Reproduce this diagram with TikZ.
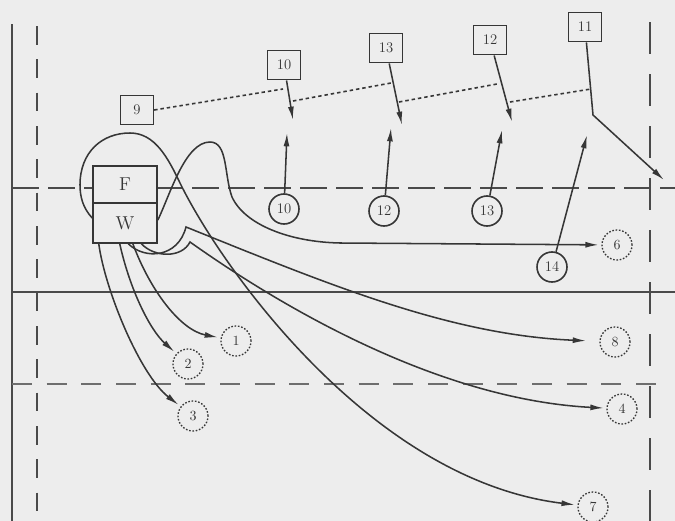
\documentclass[tikz,border=0pt]{standalone}
\usetikzlibrary{arrows.meta,calc}
\definecolor{ink}{HTML}{363636}
\definecolor{paper}{HTML}{EDEDED}
\definecolor{guide}{HTML}{4A4A4A}
\begin{document}
\begin{tikzpicture}[x=0.75pt,y=-0.75pt,
  numbox/.style={draw=ink,line width=1.2pt,fill=paper,minimum width=24.5pt,minimum height=22pt,inner sep=0pt,text=ink,font=\fontsize{11}{12}\selectfont},
  circ/.style={circle,draw=ink,line width=1.2pt,fill=paper,minimum size=22.5pt,inner sep=0pt,text=ink,font=\fontsize{11}{12}\selectfont},
  dcirc/.style={circle,draw=ink,line width=1pt,dash pattern=on 1.2pt off 1.3pt,fill=paper,minimum size=22.5pt,inner sep=0pt,text=ink,font=\fontsize{10.5}{12}\selectfont},
  fwbox/.style={draw=ink,line width=1.2pt,fill=paper,minimum width=48pt,inner sep=0pt,text=ink,font=\fontsize{14}{15}\selectfont},
  conn/.style={draw=ink,line width=1.15pt},
  arr/.style={conn,-{Latex[length=10pt,width=4.5pt]},shorten >=2pt},
  dotl/.style={draw=ink,line width=1.2pt,dash pattern=on 2.6pt off 2.2pt},
  thickguide/.style={draw=guide,line width=2.2pt},
]
\fill[paper] (0,0) rectangle (675,521);
\useasboundingbox (0,0) rectangle (675,521);

% guide lines
\draw[thickguide] (12,24) -- (12,521);
\draw[thickguide,dash pattern=on 14pt off 11pt] (37,26) -- (37,521);
\draw[thickguide,dash pattern=on 24pt off 15pt] (650,22) -- (650,521);
\draw[thickguide,dash pattern=on 20pt off 7pt] (12,188) -- (675,188);
\draw[thickguide] (12,292) -- (675,292);
\draw[thickguide,draw=guide!80,line width=1.8pt,dash pattern=on 15pt off 11pt] (12,384) -- (656,384);

% F / W
\node[fwbox,minimum height=27.75pt] (F) at (125,184.5) {F};
\node[fwbox,minimum height=30pt] (W) at (125,223) {W};

% numbered boxes
\node[numbox] (b9) at (137,110) {9};
\node[numbox] (b10) at (284,65) {10};
\node[numbox] (b13) at (386,48) {13};
\node[numbox] (b12) at (490,40) {12};
\node[numbox] (b11) at (585,27) {11};

% solid circles
\node[circ] (c10) at (284,209) {10};
\node[circ] (c12) at (384,211) {12};
\node[circ] (c13) at (487,211) {13};
\node[circ] (c14) at (552,267) {14};

% dashed circles
\node[dcirc] (d1) at (236,341) {1};
\node[dcirc] (d2) at (188,364) {2};
\node[dcirc] (d3) at (193,416) {3};
\node[dcirc] (d4) at (622,409) {4};
\node[dcirc] (d6) at (617,245) {6};
\node[dcirc] (d7) at (593,507) {7};
\node[dcirc] (d8) at (615,342) {8};

% arrow ends
\coordinate (t10) at (293,120);
\coordinate (u10) at (287,133);
\coordinate (t13) at (402,125);
\coordinate (u12) at (391,128);
\coordinate (t12) at (512,122);
\coordinate (u13) at (502,130);
\coordinate (k11) at (593,115);
\coordinate (t11) at (664,180);
\coordinate (u14) at (587,135);

% dotted line pieces
\coordinate (p1) at (283,89);
\coordinate (p2) at (293,101);
\coordinate (p3) at (391,83);
\coordinate (p4) at (399,102);
\coordinate (p5) at (497,84);
\coordinate (p6) at (510,102);
\coordinate (p7) at (591,89);
\draw[dotl] (b9.east) -- (p1);
\draw[dotl] (p2) -- (p3);
\draw[dotl] (p4) -- (p5);
\draw[dotl] (p6) -- (p7);

% straight arrows
\draw[arr,shorten >=0pt] (b10) -- (t10);
\draw[arr,shorten >=0pt] (c10) -- (u10);
\draw[arr,shorten >=0pt] (b13) -- (t13);
\draw[arr,shorten >=0pt] (c12) -- (u12);
\draw[arr,shorten >=0pt] (b12) -- (t12);
\draw[arr,shorten >=0pt] (c13) -- (u13);
\draw[arr,shorten >=0pt] (b11) -- (k11) -- (t11);
\draw[arr,shorten >=0pt] (c14) -- (u14);

% curves from W
\draw[arr] ($(W.north west)!0.38!(W.south west)$) .. controls (83,208) and (80,197) .. (80,185)
  .. controls (80,152) and (102,133) .. (130,133)
  .. controls (155,133) and (168,158) .. (180,183)
  .. controls (220,265) and (370,480) .. (d7);
\draw[arr] ($(W.north east)!0.43!(W.south east)$) .. controls (170,195) and (185,142) .. (210,142)
  .. controls (228,142) and (224,175) .. (232,197)
  .. controls (245,225) and (290,242) .. (340,243) -- (d6);
\draw[arr,shorten >=10pt] ($(W.south west)!0.55!(W.south east)$) .. controls (145,260) and (178,258) .. (186,227)
  .. controls (330,285) and (450,335) .. (d8);
\draw[arr] ($(W.south west)!0.75!(W.south east)$) .. controls (155,258) and (182,258) .. (190,242)
  .. controls (300,320) and (450,400) .. (d4);
\draw[arr] ($(W.south west)!0.1!(W.south east)$) .. controls (105,290) and (140,375) .. (d3);
\draw[arr] ($(W.south west)!0.42!(W.south east)$) .. controls (130,290) and (150,330) .. (d2);
\draw[arr] ($(W.south west)!0.62!(W.south east)$) .. controls (150,290) and (180,330) .. (d1);
\end{tikzpicture}
\end{document}
